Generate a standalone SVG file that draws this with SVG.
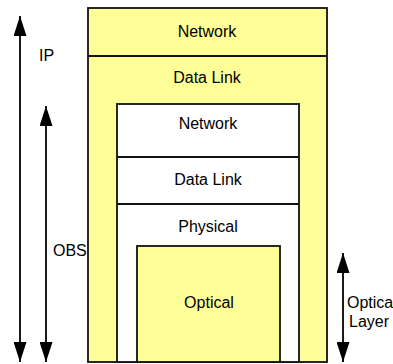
<svg xmlns="http://www.w3.org/2000/svg" width="393" height="364" viewBox="0 0 393 364">
  <style>
    .box { stroke: #111; stroke-width: 1.8; }
    .yel { fill: #FFFF99; }
    .wht { fill: #FFFFFF; }
    .lbl { font-family: "Liberation Sans", Arial, sans-serif; font-size: 16px; fill: #000; }
    .mid { text-anchor: middle; }
    .arr { stroke: #000; stroke-width: 1.8; fill: none; marker-start: url(#ah); marker-end: url(#ah); }
  </style>
  <defs>
    <marker id="ah" markerUnits="userSpaceOnUse" viewBox="0 0 20 13" markerWidth="20" markerHeight="13" refX="20" refY="6.5" orient="auto-start-reverse">
      <path d="M0,0 L20,6.5 L0,13 z" fill="#000"/>
    </marker>
  </defs>
  <rect width="393" height="364" fill="#fff"/>

  <g id="outer-stack">
    <rect class="box yel" x="88" y="8" width="239" height="354"/>
    <line class="box" x1="88" y1="56" x2="327" y2="56"/>
    <text class="lbl mid" x="207" y="37">Network</text>
    <text class="lbl mid" x="207" y="83">Data Link</text>
  </g>

  <g id="obs-stack">
    <rect class="box wht" x="117" y="104" width="182" height="258"/>
    <line class="box" x1="117" y1="157" x2="299" y2="157"/>
    <line class="box" x1="117" y1="204" x2="299" y2="204"/>
    <text class="lbl mid" x="208" y="129">Network</text>
    <text class="lbl mid" x="208" y="185">Data Link</text>
    <text class="lbl mid" x="208" y="232">Physical</text>
  </g>

  <g id="optical">
    <rect class="box yel" x="137" y="246" width="143" height="116"/>
    <text class="lbl mid" x="209" y="308">Optical</text>
  </g>

  <g id="connectors">
    <line class="arr" x1="20" y1="16" x2="20" y2="362"/>
    <line class="arr" x1="46" y1="106" x2="46" y2="362"/>
    <line class="arr" x1="343" y1="253" x2="343" y2="362"/>
  </g>

  <g id="labels">
    <text class="lbl" x="39" y="61">IP</text>
    <text class="lbl" x="53" y="256">OBS</text>
    <text class="lbl" x="347" y="308">Optica</text>
    <text class="lbl" x="349" y="327">Layer</text>
  </g>
</svg>
